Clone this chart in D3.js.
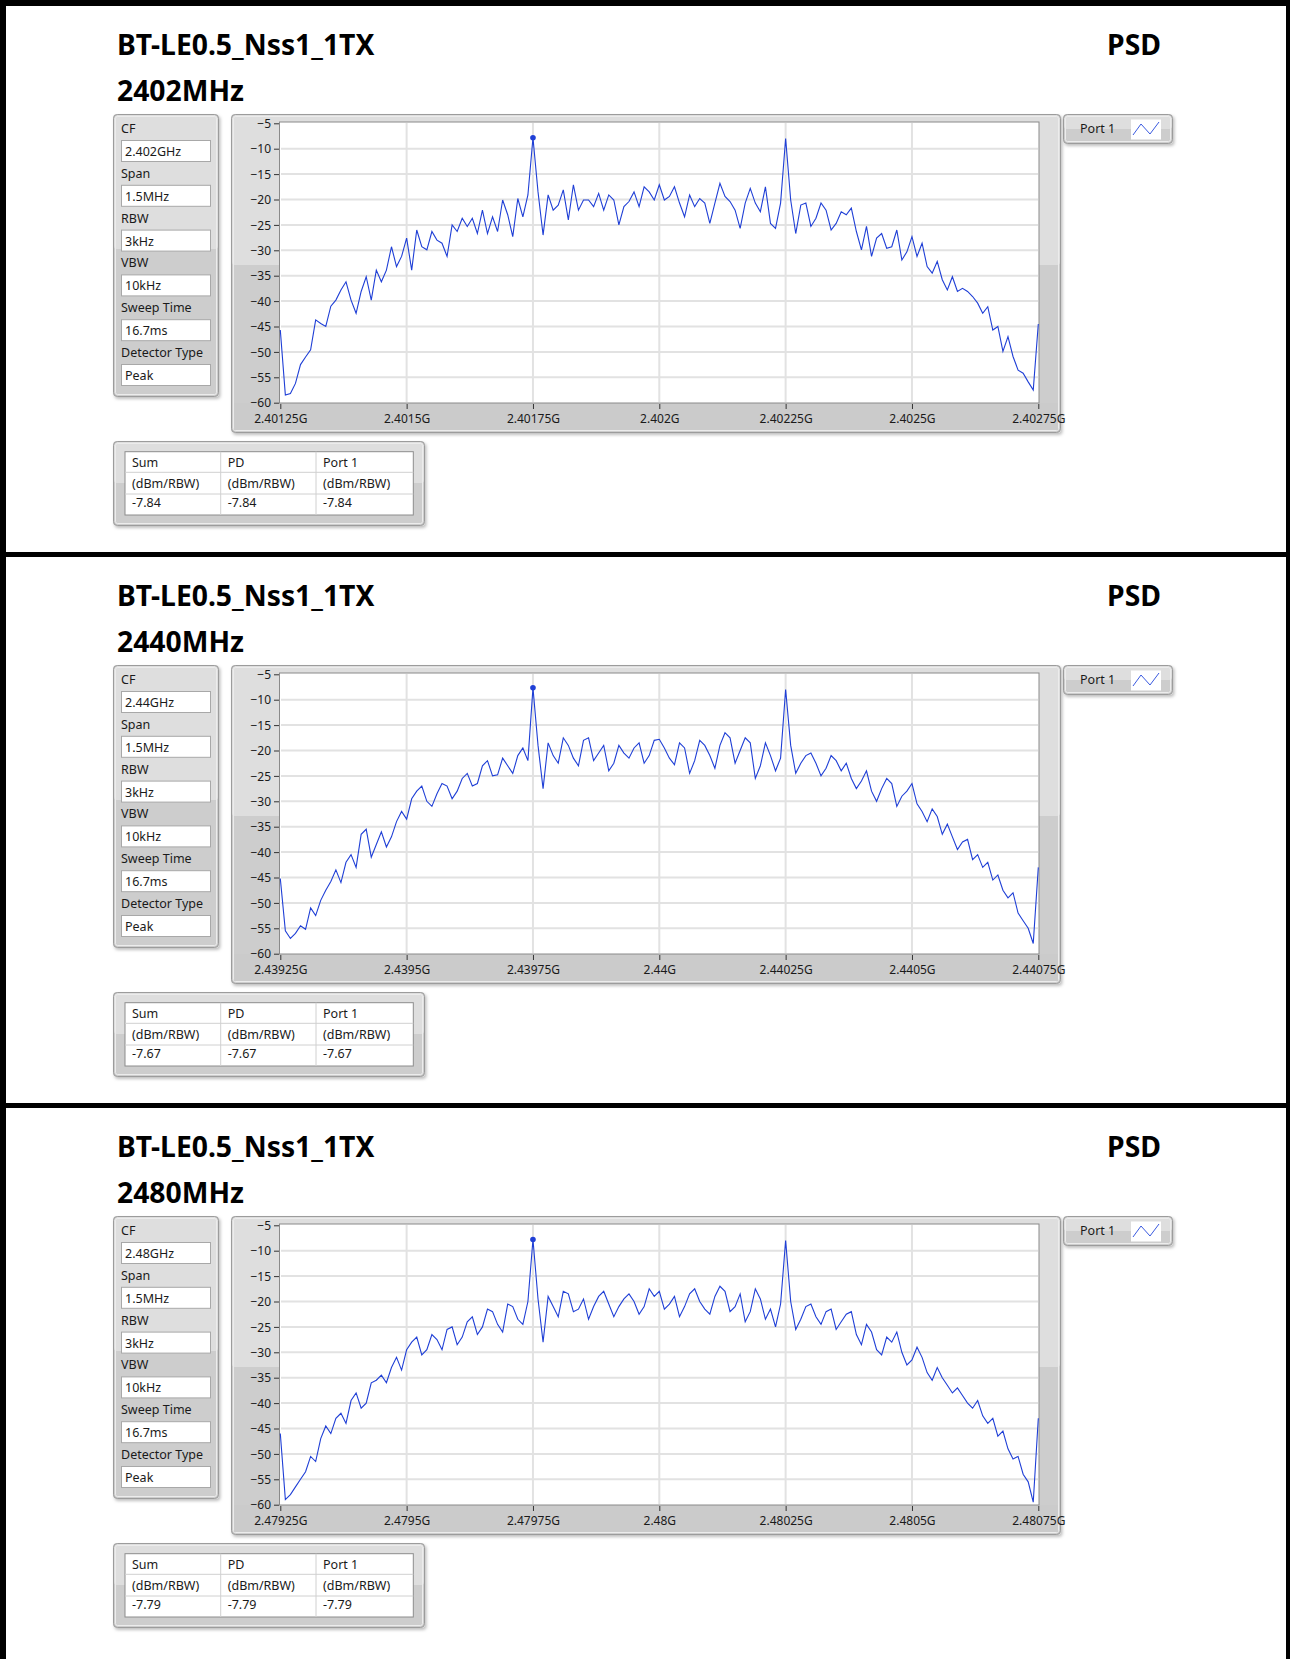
<!DOCTYPE html>
<html>
<head>
<meta charset="utf-8">
<script src="https://cdn.jsdelivr.net/npm/d3@7"></script>
<style>
  body { margin: 0; background: #fff; }
  svg { display: block; }
  text { font-family: "Noto Sans", sans-serif; fill: #1a1a1a; }
</style>
</head>
<body>
<svg width="1290" height="1659"></svg>
<script>
const testName = "BT-LE0.5_Nss1_1TX";
const channels = ["2402MHz", "2440MHz", "2480MHz"];
const centerGHz = [2.402, 2.44, 2.48];
const spanGHz = 0.0015;
const paramNames = ["CF", "Span", "RBW", "VBW", "Sweep Time", "Detector Type"];
const cfValues = ["2.402GHz", "2.44GHz", "2.48GHz"];
const otherParams = ["1.5MHz", "3kHz", "10kHz", "16.7ms", "Peak"];
const tableHeads = ["Sum", "PD", "Port 1"];
const tableUnit = "(dBm/RBW)";
const peakValues = [-7.84, -7.67, -7.79];
const yTicks = [-5, -10, -15, -20, -25, -30, -35, -40, -45, -50, -55, -60];

// PSD traces, 151 points over the 1.5 MHz span (dBm/RBW)
const trace2402 = [
  -45.7, -58.5, -58.2, -56.2, -52.5, -51, -49.6, -43.7, -44.4, -45,
  -41, -39.8, -37.8, -36.2, -39.8, -42.4, -38.1, -35.2, -39.8, -33.9,
  -36.2, -33.9, -29.3, -33.2, -31.2, -27.6, -33.9, -26, -29.3, -29.9,
  -26.3, -28, -28.6, -31.2, -25, -26.3, -23.7, -25.3, -23.7, -26.7,
  -22.1, -26.7, -23.4, -26.3, -20.1, -23, -27.3, -19.8, -23.4, -19.1,
  -7.84, -18.5, -27, -19.1, -22.1, -21.1, -18.1, -24, -17.1, -22.1,
  -20.1, -20.1, -21.4, -18.8, -22.1, -19.1, -20.1, -25, -21.4, -20.4,
  -18.5, -21.4, -17.5, -18.5, -20.1, -17.1, -20.1, -19.4, -17.5, -20.7,
  -23.4, -19.1, -21.4, -19.8, -20.7, -24.7, -20.7, -16.8, -19.4, -20.4,
  -22.1, -25.7, -20.7, -17.8, -20.7, -22.4, -17.5, -24.7, -25.7, -20.7,
  -8, -20.1, -26.7, -21.1, -20.7, -25.3, -23.7, -20.7, -22.1, -26,
  -24.7, -22.4, -23, -21.7, -26.3, -29.9, -25.3, -31.2, -27.6, -26.7,
  -29.6, -29.3, -26, -31.9, -30.3, -27.3, -31.2, -28.6, -33.2, -34.5,
  -32.2, -35.8, -37.8, -35.2, -38.1, -37.5, -38.1, -39.1, -40.4, -42.4,
  -41.1, -45.7, -45, -49.9, -47, -50.9, -53.6, -54.2, -55.9, -57.5, -44.5
];
const trace2440 = [
  -45.2, -55.5, -57, -56, -54.5, -55.2, -51, -52.5, -49.5, -47.5,
  -45.8, -43.5, -46, -42, -40.5, -43, -36.5, -35.5, -41, -38.5,
  -36, -39, -37, -34, -32, -33.5, -29.5, -28, -27, -30,
  -31, -28.5, -26.5, -27, -29.5, -28, -25.5, -24.5, -27, -26.5,
  -23, -22, -25, -24.8, -21.5, -23, -24.5, -21, -19.5, -22,
  -7.67, -19, -27.5, -18.5, -21, -22.5, -17.5, -19, -21.5, -23,
  -18, -17.5, -22, -20.5, -19, -24, -22.5, -19, -20.5, -21.5,
  -19.5, -18.5, -22.5, -21, -18, -17.8, -19.5, -21.5, -22.8, -18.5,
  -19.5, -24.5, -22, -18, -19, -21, -23.5, -19, -16.5, -17.5,
  -22.5, -20, -17.5, -18.5, -25.5, -23, -18.5, -21, -24, -21.5,
  -8, -19, -24.5, -22.5, -21, -20.5, -22.5, -25, -23.5, -21,
  -22, -24, -22.5, -25.5, -27.5, -26, -24, -28, -30, -27.5,
  -25.5, -26.5, -31, -29, -28, -26.5, -30.5, -32, -34, -31.5,
  -33, -36.5, -34.5, -37, -39.5, -38, -37.5, -41.5, -40.5, -43,
  -42, -45.5, -44.5, -47.5, -49, -48, -52, -53.5, -55, -58, -43
];
const trace2480 = [
  -46, -59, -58, -56.5, -55, -53.5, -50.5, -51.5, -47, -44.5,
  -46, -43, -42, -44, -39.5, -38, -41, -40, -36, -35.5,
  -34.5, -36, -33, -31, -33.5, -29.5, -28, -27, -30.5, -29.5,
  -26.5, -27.5, -29.5, -25.5, -25, -28.5, -27, -24, -23, -26.5,
  -25, -21.5, -22, -24.5, -26, -20.5, -21, -23.5, -24.5, -20,
  -7.79, -19.5, -28, -19, -21, -23, -18, -18.5, -22, -21.5,
  -19.5, -23.5, -21, -19, -18, -20.5, -23, -21, -19.5, -18.5,
  -20, -22.5, -21, -17.5, -19, -18, -21.5, -20.5, -19, -23,
  -21, -18.5, -17.5, -20, -21.5, -22.5, -19, -17, -18, -22,
  -21, -18.5, -24, -22, -17.5, -19.5, -23.5, -21.5, -25, -20.5,
  -8, -20, -25.5, -23.5, -21, -20.5, -23, -24.5, -22, -21.5,
  -25.5, -24, -22.5, -22, -26.5, -28.5, -24.5, -26, -29.5, -30.5,
  -27, -28, -26, -30, -32.5, -31.5, -29, -31, -34, -35.5,
  -33, -35, -36.5, -38, -37, -38.5, -40, -41, -39.5, -42.5,
  -44, -43, -46.5, -45.5, -49, -51, -50.5, -54, -55.5, -59.5, -43
];
const traces = [trace2402, trace2440, trace2480];

const svg = d3.select("svg");
const panelStep = 551;

const defs = svg.append("defs");
const shadow = defs.append("filter").attr("id", "shadow")
    .attr("x", "-5%").attr("y", "-5%").attr("width", "115%").attr("height", "120%");
shadow.append("feDropShadow").attr("dx", 1.5).attr("dy", 2).attr("stdDeviation", 1.5)
    .attr("flood-color", "#000").attr("flood-opacity", 0.25);

function frame(g, x, y, w, h, split) {
    g.append("rect")
        .attr("x", x).attr("y", y).attr("width", w).attr("height", h)
        .attr("rx", 4)
        .attr("fill", "#cdcdcd")
        .attr("filter", "url(#shadow)");
    g.append("rect")
        .attr("x", x + 1).attr("y", y + 1).attr("width", w - 2).attr("height", split - y)
        .attr("rx", 3)
        .attr("fill", "#dedede");
    g.append("rect")
        .attr("x", x + 0.5).attr("y", y + 0.5).attr("width", w - 1).attr("height", h - 1)
        .attr("rx", 4)
        .attr("fill", "none")
        .attr("stroke", "#9c9c9c");
    g.append("rect")
        .attr("x", x + 2.5).attr("y", y + 2.5).attr("width", w - 5).attr("height", h - 5)
        .attr("rx", 2)
        .attr("fill", "none")
        .attr("stroke", "#ececec");
}

function fmtGHz(v) {
    return (+v.toFixed(6)).toString() + "G";
}

traces.forEach((trace, p) => {
    const g = svg.append("g").attr("transform", `translate(0,${p * panelStep})`);

    // titles
    g.append("text").attr("x", 117).attr("y", 55)
        .style("font-size", "28.3px").style("font-weight", "bold").style("fill", "#000")
        .text(testName);
    g.append("text").attr("x", 1161).attr("y", 55).attr("text-anchor", "end")
        .style("font-size", "28.3px").style("font-weight", "bold").style("fill", "#000")
        .text("PSD");
    g.append("text").attr("x", 117).attr("y", 101)
        .style("font-size", "28.3px").style("font-weight", "bold").style("fill", "#000")
        .text(channels[p]);

    // parameter panel
    frame(g, 113, 114, 106, 283, 248);
    const vals = [cfValues[p]].concat(otherParams);
    paramNames.forEach((name, k) => {
        g.append("text").attr("x", 121).attr("y", 133 + k * 44.75)
            .style("font-size", "12.5px").text(name);
        g.append("rect")
            .attr("x", 121.5).attr("y", 140.5 + k * 44.8).attr("width", 89).attr("height", 21)
            .attr("fill", "#fff").attr("stroke", "#a8a8a8");
        g.append("text").attr("x", 125).attr("y", 156 + k * 44.8)
            .style("font-size", "12.5px").text(vals[k]);
    });

    // chart panel
    frame(g, 231, 114, 830, 319, 264);

    const f0 = centerGHz[p] - spanGHz / 2, f1 = centerGHz[p] + spanGHz / 2;
    const x = d3.scaleLinear().domain([f0, f1]).range([280.3, 1038.3]);
    const y = d3.scaleLinear().domain([-60, -5]).range([402.7, 123.3]);
    const xTicks = d3.range(0, 7).map(k => f0 + k * spanGHz / 6);

    g.append("rect").attr("x", 231 + 3).attr("y", 403).attr("width", 824).attr("height", 27)
        .attr("fill", "#cbcbcb");
    g.append("rect").attr("x", 279.5).attr("y", 122).attr("width", 759.5).attr("height", 281)
        .attr("fill", "#fff").attr("stroke", "#8a8a8a");

    g.append("g").selectAll("line").data(yTicks.slice(1, -1)).join("line")
        .attr("x1", 281).attr("x2", 1038)
        .attr("y1", d => y(d)).attr("y2", d => y(d))
        .attr("stroke", "#e2e2e2").attr("stroke-width", 2);
    g.append("g").selectAll("line").data(xTicks.slice(1, -1)).join("line")
        .attr("x1", d => x(d)).attr("x2", d => x(d))
        .attr("y1", 123).attr("y2", 402)
        .attr("stroke", "#e2e2e2").attr("stroke-width", 2);

    const yAxis = g.append("g").attr("transform", "translate(279,0)")
        .call(d3.axisLeft(y).tickValues(yTicks).tickSize(5).tickPadding(3).tickFormat(d3.format("d")));
    yAxis.select(".domain").remove();
    yAxis.selectAll("line").attr("stroke", "#333");
    yAxis.selectAll("text").style("font-size", "12px").style("fill", "#1a1a1a")
        .attr("dy", "0.35em");

    const xAxis = g.append("g").attr("transform", "translate(0,404)")
        .call(d3.axisBottom(x).tickValues(xTicks).tickSize(5).tickPadding(5).tickFormat(fmtGHz));
    xAxis.select(".domain").remove();
    xAxis.selectAll("line").attr("stroke", "#333");
    xAxis.selectAll("text").style("font-size", "12px").style("fill", "#1a1a1a");

    const pts = trace.map((v, i) => ({f: f0 + i * spanGHz / (trace.length - 1), v}));
    g.append("path").datum(pts)
        .attr("fill", "none").attr("stroke", "#1f3fd6").attr("stroke-width", 1.1)
        .attr("d", d3.line().x(d => x(d.f)).y(d => y(d.v)));
    const peak = pts[d3.maxIndex(pts, d => d.v)];
    g.append("circle").attr("cx", x(peak.f)).attr("cy", y(peakValues[p]))
        .attr("r", 2.8).attr("fill", "#1f3fd6");

    // legend
    frame(g, 1063, 114, 110, 30, 128);
    g.append("text").attr("x", 1080).attr("y", 133).style("font-size", "12.5px").text("Port 1");
    g.append("rect").attr("x", 1131).attr("y", 119.5).attr("width", 30).attr("height", 20)
        .attr("fill", "#fff");
    g.append("path").attr("d", "M1133,135 L1141,124 L1150,134 L1159,122")
        .attr("fill", "none").attr("stroke", "#3a5ae0").attr("stroke-width", 1);

    // result table
    frame(g, 113, 441, 312, 85, 482);
    const colX = [125, 220.7, 316, 413.3];
    const rowY = [451.7, 472.3, 494, 515];
    g.append("rect").attr("x", colX[0]).attr("y", rowY[0])
        .attr("width", colX[3] - colX[0]).attr("height", rowY[3] - rowY[0])
        .attr("fill", "#fff").attr("stroke", "#8c8c8c");
    g.append("g").selectAll("line").data(colX.slice(1, 3)).join("line")
        .attr("x1", d => d).attr("x2", d => d).attr("y1", rowY[0]).attr("y2", rowY[3])
        .attr("stroke", "#d0d0d0");
    g.append("g").selectAll("line").data(rowY.slice(1, 3)).join("line")
        .attr("x1", colX[0]).attr("x2", colX[3]).attr("y1", d => d).attr("y2", d => d)
        .attr("stroke", "#d0d0d0");
    const cells = [tableHeads, [tableUnit, tableUnit, tableUnit],
        [0, 1, 2].map(() => peakValues[p].toFixed(2))];
    const baseY = [466.7, 488, 507];
    cells.forEach((row, r) => row.forEach((t, c) => {
        g.append("text").attr("x", colX[c] + 7).attr("y", baseY[r])
            .style("font-size", "12.5px").text(t);
    }));
});

// black frame and panel dividers
const border = [
    {x: 0, y: 0, w: 1290, h: 6},
    {x: 0, y: 0, w: 6, h: 1659},
    {x: 1286, y: 0, w: 4, h: 1659},
    {x: 0, y: 552, w: 1290, h: 5},
    {x: 0, y: 1103, w: 1290, h: 5}
];
svg.append("g").selectAll("rect").data(border).join("rect")
    .attr("x", d => d.x).attr("y", d => d.y).attr("width", d => d.w).attr("height", d => d.h)
    .attr("fill", "#000");
</script>
</body>
</html>
